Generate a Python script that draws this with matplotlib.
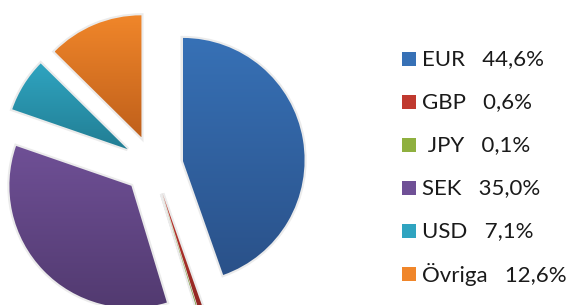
import matplotlib
matplotlib.use('Agg')
import matplotlib.pyplot as plt
import numpy as np
from matplotlib.colors import LinearSegmentedColormap
from matplotlib.patches import Rectangle

# currency split, percent
currencies = ['EUR', 'GBP', ' JPY', 'SEK', 'USD', 'Övriga']
shares = [44.6, 0.6, 0.1, 35.0, 7.1, 12.6]
top_colors = ['#3771b6', '#c0392f', '#8fb03f', '#6f5096', '#2fa4c0', '#f0862a']
bottom_colors = ['#2a5189', '#8f2622', '#6d8b2e', '#523a70', '#227e94', '#c0601b']

fig = plt.figure(figsize=(5.8, 3.05), dpi=100)
ax = fig.add_axes([0, 0, 1, 1])

wedges, _ = ax.pie(shares, radius=122, center=(153, 140), startangle=90,
                   counterclock=False, explode=[30] * len(shares),
                   colors=bottom_colors,
                   wedgeprops=dict(edgecolor='#ebebeb', linewidth=3))

# vertical gradient inside every slice
grad = np.linspace(0, 1, 256).reshape(-1, 1)
for w, c_top, c_bot in zip(wedges, top_colors, bottom_colors):
    cmap = LinearSegmentedColormap.from_list('g', [c_bot, c_top])
    bb = w.get_path().get_extents()
    im = ax.imshow(grad, extent=[bb.x0, bb.x1, bb.y0, bb.y1], origin='lower',
                   cmap=cmap, aspect='auto', zorder=3, interpolation='bilinear')
    im.set_clip_path(w)

# legend
for i, (name, val) in enumerate(zip(currencies, shares)):
    y = 305 - (59 + 43 * i)
    ax.add_patch(Rectangle((402, y - 7), 14, 14, facecolor=top_colors[i],
                           edgecolor='none', zorder=4))
    pct = f'{val:.1f}'.replace('.', ',') + '%'
    ax.text(422, y, f'{name}   {pct}', va='center', ha='left',
            fontsize=16, family='Lato', color='#1a1a1a', zorder=4)

ax.set_xlim(0, 580)
ax.set_ylim(0, 305)
ax.set_aspect('equal')
ax.axis('off')

fig.savefig('out.png', dpi=100)
